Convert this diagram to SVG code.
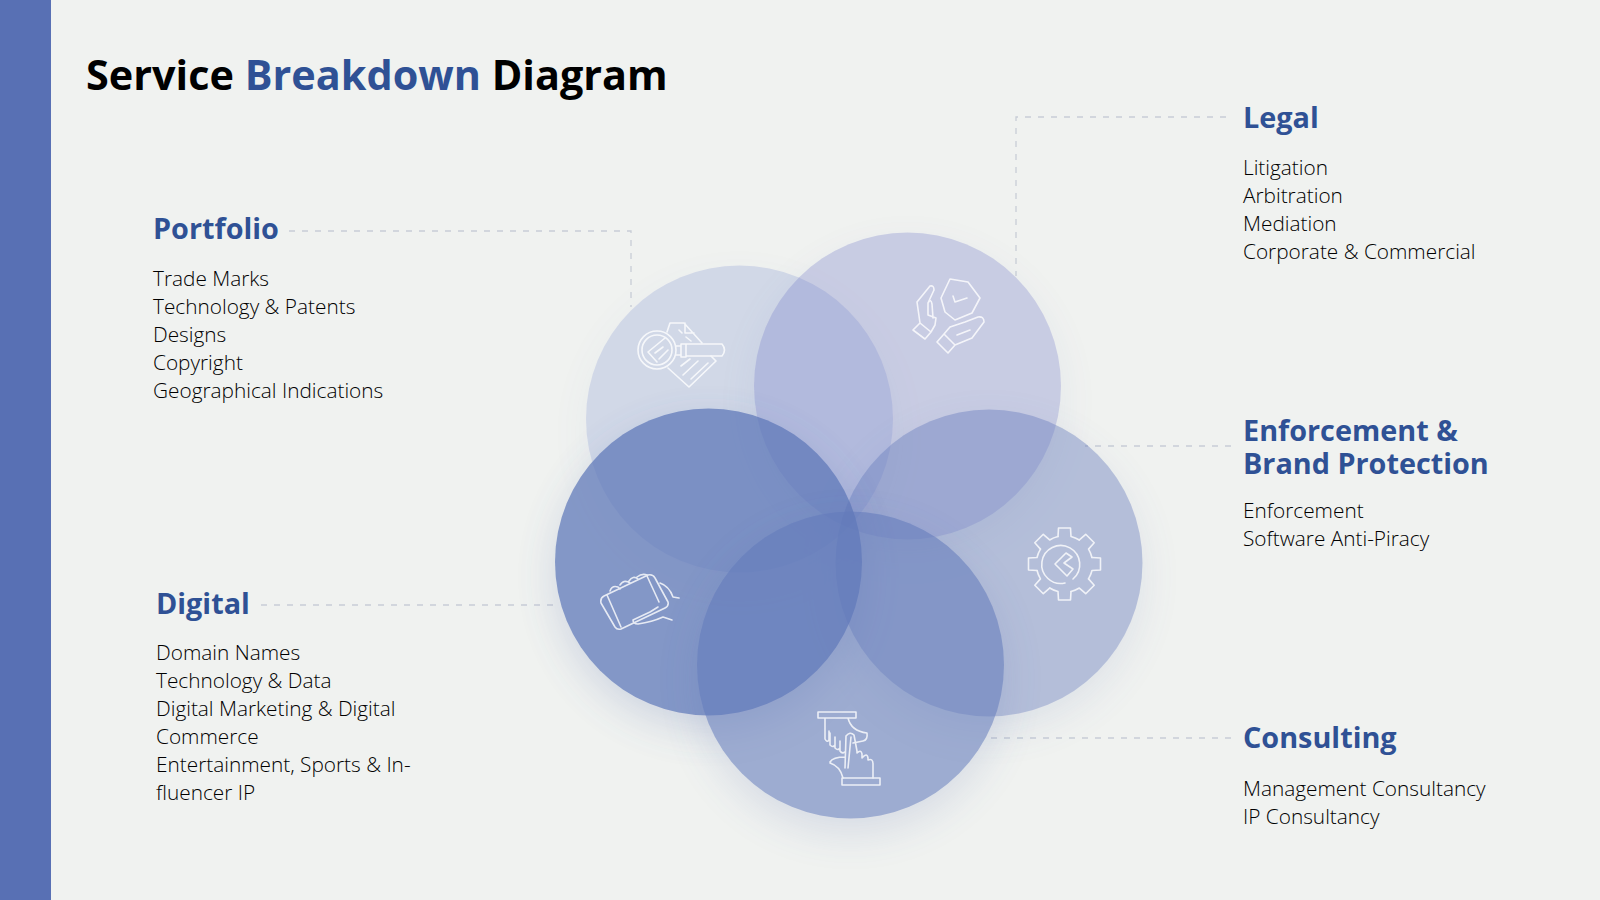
<svg xmlns="http://www.w3.org/2000/svg" xmlns:xlink="http://www.w3.org/1999/xlink" width="1600" height="900" viewBox="0 0 1600 900">
<defs>
<style>
text{font-family:"Open Sans","Noto Sans","Liberation Sans",sans-serif}
.t{font-size:41.4px;font-weight:700;fill:#000}
.h{font-size:28.8px;font-weight:700;fill:#2f5195}
.b{font-size:20.8px;font-weight:300;fill:#000}
.c{fill:none;stroke:#c8cdd6;stroke-width:1.3;stroke-dasharray:6 7}
.i{fill:none;stroke:#fff;stroke-width:1.6;stroke-linejoin:round;stroke-linecap:round;opacity:.8}
</style>
<filter id="s" x="-30%" y="-30%" width="160%" height="170%"><feDropShadow dx="0" dy="14" stdDeviation="20" flood-color="#4a62a8" flood-opacity=".28"/></filter>
<path id="tooth" d="M-6.5-27.5-6-36H6L6.5-27.5A28.3 28.3 0 0 1 14.8-24"/>
</defs>
<rect width="1600" height="900" fill="#f0f2f0"/>
<rect width="51" height="900" fill="#5870b4"/>
<text class="t" x="86" y="90">Service <tspan fill="#2f5195">Breakdown</tspan> Diagram</text>
<g id="connectors">
<path class="c" d="M289 231H631V307"/>
<path class="c" d="M1226 117H1016V276"/>
<path class="c" d="M1231 446H1085"/>
<path class="c" d="M261 605H555"/>
<path class="c" d="M1231 738H990"/>
</g>
<g id="circle-portfolio"><circle cx="739.5" cy="419" r="153.5" fill="#5a72c5" opacity=".2" filter="url(#s)"/></g>
<g id="circle-legal"><circle cx="907.5" cy="386" r="153.5" fill="#6b72c5" opacity=".29" filter="url(#s)"/></g>
<g id="circle-enforcement"><circle cx="989" cy="563" r="153.5" fill="#6479bb" opacity=".42" filter="url(#s)"/></g>
<g id="circle-digital"><circle cx="708.5" cy="562" r="153.5" fill="#5c76b8" opacity=".73" filter="url(#s)"/></g>
<g id="circle-consulting"><circle cx="850.5" cy="665" r="153.5" fill="#627abb" opacity=".58" filter="url(#s)"/></g>
<g id="portfolio"><text class="h" x="153" y="239">Portfolio</text>
<text class="b"><tspan x="153" y="286">Trade Marks</tspan><tspan x="153" y="314">Technology &amp; Patents</tspan><tspan x="153" y="342">Designs</tspan><tspan x="153" y="370">Copyright</tspan><tspan x="153" y="398">Geographical Indications</tspan></text>
</g>
<g id="legal"><text class="h" x="1243" y="128">Legal</text>
<text class="b"><tspan x="1243" y="175">Litigation</tspan><tspan x="1243" y="203">Arbitration</tspan><tspan x="1243" y="231">Mediation</tspan><tspan x="1243" y="259">Corporate &amp; Commercial</tspan></text>
</g>
<g id="enforcement"><text class="h"><tspan x="1243" y="440.5">Enforcement &amp;</tspan><tspan x="1243" y="473.5">Brand Protection</tspan></text>
<text class="b"><tspan x="1243" y="518">Enforcement</tspan><tspan x="1243" y="546">Software Anti-Piracy</tspan></text>
</g>
<g id="digital"><text class="h" x="156" y="614">Digital</text>
<text class="b"><tspan x="156" y="660">Domain Names</tspan><tspan x="156" y="688">Technology &amp; Data</tspan><tspan x="156" y="716">Digital Marketing &amp; Digital</tspan><tspan x="156" y="744">Commerce</tspan><tspan x="156" y="772">Entertainment, Sports &amp; In-</tspan><tspan x="156" y="800">fluencer IP</tspan></text>
</g>
<g id="consulting"><text class="h" x="1243" y="748">Consulting</text>
<text class="b"><tspan x="1243" y="796">Management Consultancy</tspan><tspan x="1243" y="824">IP Consultancy</tspan></text>
</g>
<g class="i" id="icon-portfolio">
<path d="M667 332 670 323H684L702 343M685 323V333L694 333M711 356 716 361 689 387 668 368"/>
<circle cx="657" cy="350" r="19"/><circle cx="657" cy="350" r="15"/>
<path d="M665 338 648 352 657 362M663 347 655 353M668 350 659 359"/>
<path d="M676 346H681V355H676M686 344H722Q727 350 722 356H686ZM681 344H686V357H681Z"/>
<path d="M683 375 698 361M691 379 708 363M681 366 690 359M686 337 691 341M679 330 682 333"/>
</g>
<g class="i" id="icon-legal">
<path d="M950 279 968 282 980 298 972 313 955 320 945 312 941 298Z"/>
<path d="M953 296 955 302 967 298"/>
<path d="M920 323 917 302 930 286Q934 285 934 290L928 303 928 315 936 318 935 325 931 332M920 323 931 332 925 339 913 330ZM928 303Q931 298 932 304L933 318"/>
<path d="M937 342 944 334 955 345 948 353ZM944 334 950 327 965 322 978 317Q984 316 984 322L972 338 955 345M957 335 970 330"/>
</g>
<g class="i" id="icon-enforcement">
<use xlink:href="#tooth" href="#tooth" transform="translate(1064.5 564)"/>
<use xlink:href="#tooth" href="#tooth" transform="translate(1064.5 564) rotate(45)"/>
<use xlink:href="#tooth" href="#tooth" transform="translate(1064.5 564) rotate(90)"/>
<use xlink:href="#tooth" href="#tooth" transform="translate(1064.5 564) rotate(135)"/>
<use xlink:href="#tooth" href="#tooth" transform="translate(1064.5 564) rotate(180)"/>
<use xlink:href="#tooth" href="#tooth" transform="translate(1064.5 564) rotate(225)"/>
<use xlink:href="#tooth" href="#tooth" transform="translate(1064.5 564) rotate(270)"/>
<use xlink:href="#tooth" href="#tooth" transform="translate(1064.5 564) rotate(315)"/>
<path d="M1073 579A19 19 0 1 0 1065 583"/>
<path d="M1066 553 1055 564 1067 576 1073 569 1064 563 1072 557Z"/>
</g>
<g class="i" id="icon-digital">
<path d="M604 596 648 575Q653 574 655 578L668 602Q669 606 665 608L621 629Q617 630 615 627L601 603Q600 598 604 596ZM607 595 621 627M647 576 659 602"/>
<path d="M610 591Q612 585 618 587L620 589M620 585Q624 579 630 583M629 581Q633 575 638 579M637 577Q642 573 647 575"/>
<path d="M660 583Q669 586 673 597L679 598M633 620 650 612 658 607M633 620Q633 624 638 624 652 622 663 617L672 620"/>
</g>
<g class="i" id="icon-consulting">
<path d="M818 712H856V718H818ZM825 718V739Q827 743 829 740V731M830 733V745Q833 748 835 745V737M835 739V748Q838 751 840 748V741M840 744V751Q842 754 845 752M848 718Q851 731 867 733 868 740 863 741L853 743"/>
<path d="M845 768 846 736Q850 731 854 735L857 751V753Q861 749 862 754V758Q867 752 868 758V760Q873 758 873 764V778M851 737 848 768M830 762Q833 757 845 757M830 763Q840 766 843 778"/>
<path d="M842 778H880V785H842Z"/>
</g>
</svg>
